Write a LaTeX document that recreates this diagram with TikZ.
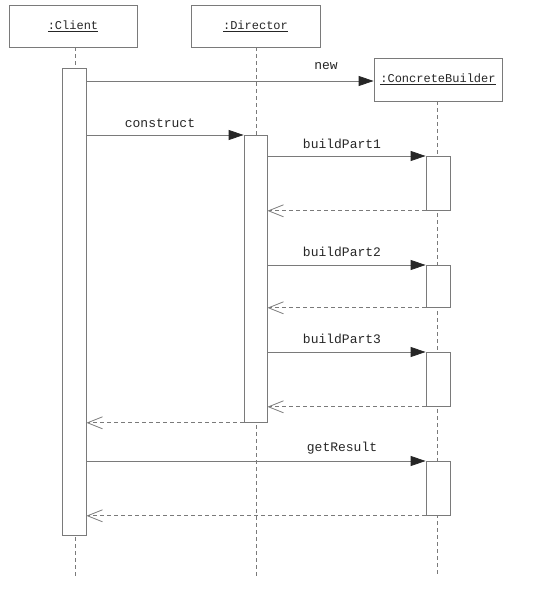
\documentclass[tikz,border=0pt]{standalone}
\usepackage{fontspec}
\setmonofont{Liberation Mono}
\usetikzlibrary{arrows.meta}
\definecolor{ln}{HTML}{7A7A7A}
\definecolor{tx}{HTML}{262626}
\tikzset{
  objbox/.style={draw=ln, line width=0.8pt, minimum width=128pt, minimum height=42pt, inner sep=0pt, font=\ttfamily\fontsize{12}{14}\selectfont, text=tx},
  actbar/.style={draw=ln, fill=white, line width=0.8pt, minimum width=24pt, inner sep=0pt, anchor=north},
  life/.style={draw=ln, line width=0.7pt, dash pattern=on 4pt off 3pt},
  msg/.style={draw=ln, line width=0.8pt, -{Triangle[length=15pt,width=10pt,fill=tx,color=tx]}},
  ret/.style={draw=ln, line width=0.8pt, dash pattern=on 4pt off 3pt, -{Straight Barb[length=15pt,width=12pt,line width=0.8pt]}},
  lbl/.style={font=\ttfamily\fontsize{13}{15}\selectfont, text=tx, inner sep=0pt},
}
\begin{document}
\begin{tikzpicture}[x=1pt,y=-1pt]
\useasboundingbox (0,0) rectangle (535,612);
% objects
\node[objbox] (client) at (73,26) {\underline{:Client}};
\node[objbox, minimum width=129pt] (director) at (255.5,26) {\underline{:Director}};
\node[objbox, minimum height=43pt] (builder) at (438,79.5) {\underline{:ConcreteBuilder}};
% lifeline ends
\coordinate (endC) at (75,577);
\coordinate (endD) at (256,577);
\coordinate (endB) at (437,577);
\draw[life] (client.south -| endC) -- (endC);
\draw[life] (director.south -| endD) -- (endD);
\draw[life] (builder.south -| endB) -- (endB);
% activation bars
\node[actbar, minimum height=467pt] (ca) at (74,68) {};
\node[actbar, minimum width=23pt, minimum height=287pt] (da) at (255.5,135) {};
\node[actbar, minimum height=54pt] (b1) at (438,156) {};
\node[actbar, minimum height=42pt] (b2) at (438,265) {};
\node[actbar, minimum height=54pt] (b3) at (438,352) {};
\node[actbar, minimum height=54pt] (b4) at (438,461) {};
% messages
\coordinate (newy) at (0,81);
\draw[msg] (ca.east |- newy) -- (builder.west |- newy);
\node[lbl] (lnew) at (326,66) {new};
\draw[msg] (ca.east |- da.north) -- (da.north west);
\node[lbl] (lcon) at (160,123) {construct};
\draw[msg] (da.east |- b1.north) -- (b1.north west);
\node[lbl] (lb1) at (342,144) {buildPart1};
\draw[ret] (b1.south west) -- (da.east |- b1.south);
\draw[msg] (da.east |- b2.north) -- (b2.north west);
\node[lbl] (lb2) at (342,252) {buildPart2};
\draw[ret] (b2.south west) -- (da.east |- b2.south);
\draw[msg] (da.east |- b3.north) -- (b3.north west);
\node[lbl] (lb3) at (342,339) {buildPart3};
\draw[ret] (b3.south west) -- (da.east |- b3.south);
\draw[ret] (da.south west) -- (ca.east |- da.south);
\draw[msg] (ca.east |- b4.north) -- (b4.north west);
\node[lbl] (lgr) at (342,448) {getResult};
\draw[ret] (b4.south west) -- (ca.east |- b4.south);
\end{tikzpicture}
\end{document}
